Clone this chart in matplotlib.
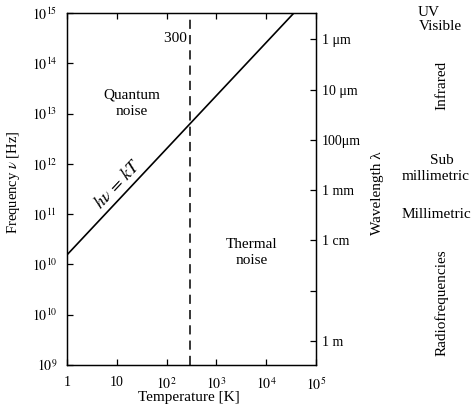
import matplotlib
matplotlib.use("Agg")
import matplotlib.pyplot as plt

plt.rcParams['font.family'] = ['Liberation Serif', 'DejaVu Serif']
plt.rcParams['mathtext.fontset'] = 'stix'

# Data
temperature_K = [1, 3.6e4]          # hv = kT line endpoints
frequency_Hz = [1.55e10, 1e15]
room_temperature = 300
x_ticks = [1, 10, 1e2, 1e3, 1e4, 1e5]
x_tick_labels = ['1', '10', r'$10^{2}$', r'$10^{3}$', r'$10^{4}$', r'$10^{5}$']
y_ticks = [1e8, 1e9, 1e10, 1e11, 1e12, 1e13, 1e14, 1e15]
y_tick_labels = [r'$10^{9}$', r'$10^{10}$', r'$10^{10}$', r'$10^{11}$',
                 r'$10^{12}$', r'$10^{13}$', r'$10^{14}$', r'$10^{15}$']
wavelength_freqs = [3e14, 3e13, 3e12, 3e11, 3e10, 3e9, 3e8]
wavelength_labels = ['1 μm', '10 μm', '100μm', '1 mm', '1 cm', '', '1 m']

fig = plt.figure(figsize=(4.75, 4.12), dpi=100)
ax = fig.add_axes([67/475, 1 - 365/412, (316 - 67)/475, (365 - 13)/412])
ax.set_xscale('log')
ax.set_yscale('log')
ax.set_xlim(1, 1e5)
ax.set_ylim(1e8, 1e15)

ax.plot(temperature_K, frequency_Hz, color='black', lw=1.2)
ax.axvline(room_temperature, color='black', lw=1.1, dashes=(6, 4))

ax.set_xticks(x_ticks)
ax.set_xticklabels(x_tick_labels, fontsize=10)
ax.set_yticks(y_ticks)
ax.set_yticklabels(y_tick_labels, fontsize=10)
ax.minorticks_off()
ax.tick_params(axis='both', direction='in', length=4, width=0.9, pad=7)
ax.tick_params(axis='x', top=True, pad=8)
ax.tick_params(axis='y', right=False)

ax2 = ax.twinx()
ax2.set_yscale('log')
ax2.set_ylim(1e8, 1e15)
ax2.set_yticks(wavelength_freqs)
ax2.set_yticklabels(wavelength_labels, fontsize=10)
ax2.minorticks_off()
ax2.tick_params(axis='y', direction='in', length=4, width=0.9, pad=4)

for a in (ax, ax2):
    for s in a.spines.values():
        s.set_linewidth(0.9)

fig.text(189/475, 1 - 398/412, 'Temperature [K]', ha='center', va='center', fontsize=11)
fig.text(14/475, 1 - 182/412, r'Frequency $\nu$ [Hz]', rotation=90,
         ha='center', va='center', fontsize=10.5)
fig.text(377/475, 1 - 193/412, 'Wavelength λ', rotation=90,
         ha='center', va='center', fontsize=11)

ax.text(300, 10**(14.5), '300 ', ha='right', va='center', fontsize=11)
ax.text(20, 10**(13.2), 'Quantum\nnoise', ha='center', va='center',
        fontsize=11, linespacing=1.35)
ax.text(5.2e3, 10**(10.24), 'Thermal\nnoise', ha='center', va='center',
        fontsize=11, linespacing=1.35)
ax.text(10.4, 10**(11.6), r'$h\nu\, =\, kT$', rotation=47, ha='center',
        va='center', fontsize=13, rotation_mode='anchor')

fig.text(418/475, 1 - 12/412, 'UV', ha='left', va='center', fontsize=11)
fig.text(440/475, 1 - 27/412, 'Visible', ha='center', va='center', fontsize=11)
fig.text(442/475, 1 - 85/412, 'Infrared', rotation=90, ha='center', va='center', fontsize=11)
fig.text(442/475, 1 - 160/412, 'Sub', ha='center', va='center', fontsize=11)
fig.text(436/475, 1 - 177/412, 'millimetric', ha='center', va='center', fontsize=11)
fig.text(436/475, 1 - 215/412, 'Millimetric', ha='center', va='center', fontsize=11)
fig.text(442/475, 1 - 303/412, 'Radiofrequencies', rotation=90, ha='center', va='center', fontsize=11)

fig.savefig('out.png', dpi=100)
